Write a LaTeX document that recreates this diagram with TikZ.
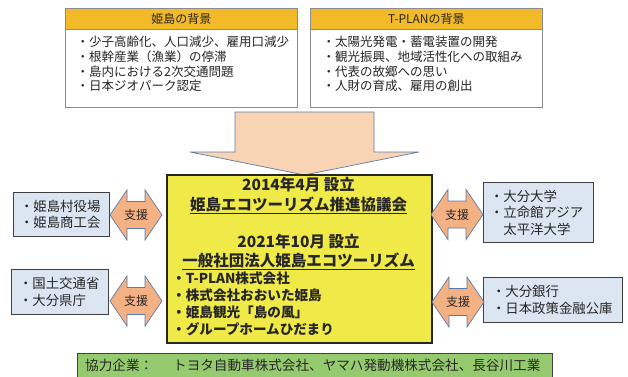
\documentclass[tikz,border=0pt]{standalone}
\usepackage{fontspec}
\newfontfamily\jp{Noto Sans CJK JP}
\definecolor{hdrgold}{HTML}{F2B928}
\definecolor{boxgray}{HTML}{8C8C8C}
\definecolor{sidegray}{HTML}{3F3F3F}
\definecolor{sideblue}{HTML}{DCE6F2}
\definecolor{mainyellow}{HTML}{F0EA48}
\definecolor{greenfill}{HTML}{95CB6E}
\definecolor{peach}{HTML}{F4B183}
\definecolor{lightpeach}{HTML}{F8D3B4}
\definecolor{arrowedge}{HTML}{5B7BAA}
\definecolor{txt}{HTML}{262626}
\newcommand{\dblarr}[4]{%
  \draw[sidearrow] (#1,#3) -- (#1+17,#3-25) -- (#1+17,#3-13.5) -- (#2-17,#3-13.5)
    -- (#2-17,#3-25) -- (#2,#3) -- (#2-17,#3+25) -- (#2-17,#3+13.5)
    -- (#1+17,#3+13.5) -- (#1+17,#3+25) -- cycle;
  \node[suplabel] (#4) at ({(#1+#2)/2},#3+4.6) {支援};}
\begin{document}
\begin{tikzpicture}[x=1pt,y=-1pt,
  every node/.style={inner sep=0pt, text=txt},
  bgbox/.style={draw=boxgray, line width=0.8pt, fill=white},
  hdr/.style={draw=boxgray, line width=0.8pt, fill=hdrgold, anchor=north west,
    font={\jp\fontsize{12}{14}\selectfont}},
  bgtext/.style={anchor=north west, align=left, font={\jp\fontsize{12.5}{14.7}\selectfont}},
  sidebox/.style={draw=sidegray, fill=sideblue, line width=1pt, anchor=north west,
    align=left, font={\jp\fontsize{13.4}{16.5}\selectfont}},
  sidearrow/.style={fill=peach, draw=arrowedge, line width=0.7pt},
  suplabel/.style={anchor=base, font={\jp\fontsize{12}{14}\selectfont}},
  ttl/.style={anchor=base, font={\jp\bfseries\fontsize{15.5}{18}\selectfont}},
]
\clip (0,0) rectangle (628,376);
\fill[white] (0,0) rectangle (628,376);

% background boxes
\draw[bgbox] (65,8) rectangle (297,107);
\node[hdr, minimum width=232pt, minimum height=21pt] (h1) at (65,8) {姫島の背景};
\node[bgtext] (t1) at (76.5,36) {・少子高齢化、人口減少、雇用口減少\\・根幹産業（漁業）の停滞\\・島内における2次交通問題\\・日本ジオパーク認定};

\draw[bgbox] (310,8) rectangle (542,107);
\node[hdr, minimum width=232pt, minimum height=21pt] (h2) at (310,8) {T-PLANの背景};
\node[bgtext] (t2) at (322.5,36) {・太陽光発電・蓄電装置の開発\\・観光振興、地域活性化への取組み\\・代表の故郷への思い\\・人財の育成、雇用の創出};

% big down arrow
\draw[fill=lightpeach, draw=arrowedge, line width=0.7pt]
  (235,112) -- (374,112) -- (374,152) -- (419,152) -- (304.5,175) -- (190,152) -- (235,152) -- cycle;

% main box
\node[draw=txt, line width=2.2pt, fill=mainyellow, minimum width=265pt, minimum height=168pt,
  anchor=north west] (main) at (166,174) {};
\node[ttl] (y1) at (298.5,190.7) {2014年4月 設立};
\node[ttl] (y2) at (298.5,210.7) {\underline{姫島エコツーリズム推進協議会}};
\node[ttl] (y3) at (298.5,247.7) {2021年10月 設立};
\node[ttl] (y4) at (298.5,266.7) {\underline{一般社団法人姫島エコツーリズム}};
\node[anchor=north west, align=left, font={\jp\bfseries\fontsize{13.6}{17}\selectfont}] (yb) at (172,272)
  {・T-PLAN株式会社\\・株式会社おおいた姫島\\・姫島観光「島の風」\\・グループホームひだまり};

% side boxes
\node[sidebox, minimum width=96pt, minimum height=44pt, inner xsep=6.5pt, text width=83pt] (b1) at (13,192) {・姫島村役場\\・姫島商工会};
\node[sidebox, minimum width=97pt, minimum height=45pt, inner xsep=7.5pt, text width=82pt] (b2) at (11,269) {・国土交通省\\・大分県庁};
\node[sidebox, minimum width=110pt, minimum height=60pt, inner xsep=6.5pt, text width=97pt] (b3) at (483,182) {・大分大学\\・立命館アジア\\\phantom{・}太平洋大学};
\node[sidebox, minimum width=139pt, minimum height=45pt, inner xsep=8.5pt, text width=122pt] (b4) at (483,277) {・大分銀行\\・日本政策金融公庫};

% support arrows
\dblarr{110}{162}{215}{s1}
\dblarr{110}{162}{301}{s2}
\dblarr{431}{483}{214.5}{s3}
\dblarr{432}{484}{302}{s4}

% cooperating companies
\draw[draw=sidegray, line width=1pt, fill=greenfill] (77,353) rectangle (552,385);
\node[anchor=base west, font={\jp\fontsize{13.6}{15}\selectfont}] (g) at (85,370)
  {協力企業：\hspace{20pt}トヨタ自動車株式会社、ヤマハ発動機株式会社、長谷川工業};
\end{tikzpicture}
\end{document}
